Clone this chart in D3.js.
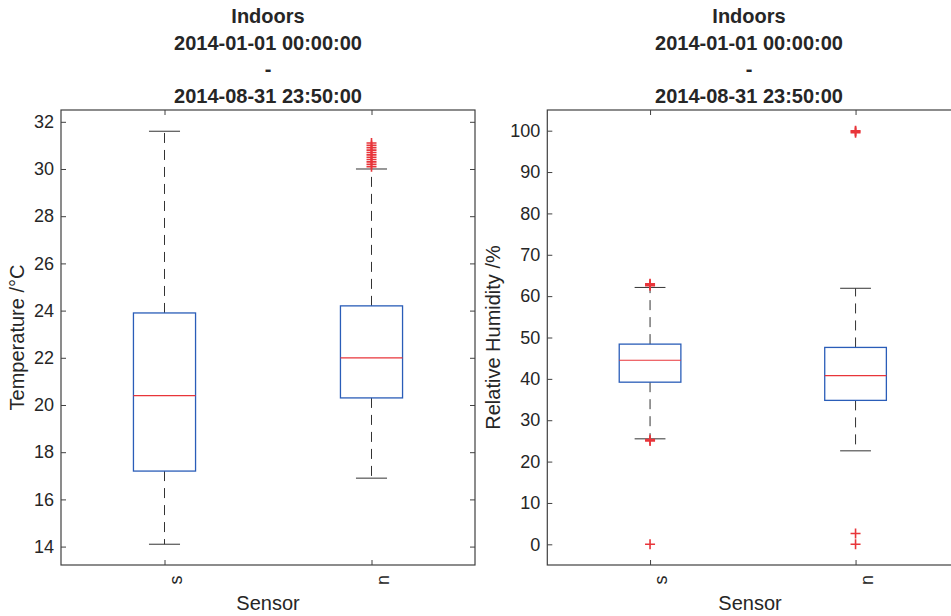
<!DOCTYPE html>
<html>
<head>
<meta charset="utf-8">
<script src="https://cdn.jsdelivr.net/npm/d3@7"></script>
<style>
  body { margin: 0; background: #fff; }
  text { font-family: "Liberation Sans", Arial, sans-serif; fill: #262626; }
</style>
</head>
<body>
<svg id="chart" width="951" height="616"></svg>
<script>
// box statistics
const sensors = ["s", "n"];
const titleLines = ["Indoors", "2014-01-01 00:00:00", "-", "2014-08-31 23:50:00"];

const tempMin = [14.1, 16.9];
const tempQ1 = [17.2, 20.3];
const tempMed = [20.4, 22.0];
const tempQ3 = [23.9, 24.2];
const tempMax = [31.6, 30.0];
const tempOutliers = [[], [30.1, 30.2, 30.3, 30.4, 30.5, 30.6, 30.7, 30.8, 30.9, 31.0, 31.1]];
const tempTicks = [14, 16, 18, 20, 22, 24, 26, 28, 30, 32];

const humMin = [25.5, 22.6];
const humQ1 = [39.2, 34.8];
const humMed = [44.5, 40.8];
const humQ3 = [48.4, 47.6];
const humMax = [62.1, 61.9];
const humOutliers = [[0, 25.0, 25.3, 62.5, 62.8, 63.0], [0, 2.6, 99.5, 99.8, 100.0]];
const humTicks = [0, 10, 20, 30, 40, 50, 60, 70, 80, 90, 100];

const svg = d3.select("#chart")

function panel(left, width, top, bottom, ydom, ticks, ylabel, ylabelX, mins, q1, med, q3, maxs, outl)
{
    const g = svg.append("g")
    const x = d3.scaleLinear().domain([0.5, 2.5]).range([left, left + width])
    const y = d3.scaleLinear().domain(ydom).range([bottom, top])
    const boxW = (x(1.15) - x(1))   // half box width
    const capW = boxW / 2

    // axes, ticks pointing inward
    g.append("g").attr("transform", `translate(${left},0)`)
        .call(d3.axisLeft(y).tickValues(ticks).tickSize(-5).tickPadding(7))
        .call(a => a.select(".domain").remove())
        .call(a => a.selectAll("text").attr("font-size", 18).attr("fill", "#262626"))
    g.append("g").attr("transform", `translate(${left + width},0)`)
        .call(d3.axisRight(y).tickValues(ticks).tickSize(-5).tickFormat(""))
        .call(a => a.select(".domain").remove())
    g.append("g").attr("transform", `translate(0,${top})`)
        .call(d3.axisTop(x).tickValues([1, 2]).tickSize(-5).tickFormat(""))
        .call(a => a.select(".domain").remove())
    g.append("g").attr("transform", `translate(0,${bottom})`)
        .call(d3.axisBottom(x).tickValues([1, 2]).tickSize(-5).tickFormat(""))
        .call(a => a.select(".domain").remove())
    g.selectAll(".tick line").attr("stroke", "#404040")

    g.append("rect")
        .attr("x", left).attr("y", top)
        .attr("width", width).attr("height", bottom - top)
        .attr("fill", "none").attr("stroke", "#404040").attr("stroke-width", 1.2)

    sensors.forEach((s, i) => {
        const cx = x(i + 1)
        // whiskers
        g.append("line").attr("x1", cx).attr("x2", cx)
            .attr("y1", y(q3[i])).attr("y2", y(maxs[i]))
            .attr("stroke", "#333").attr("stroke-dasharray", "10,7")
        g.append("line").attr("x1", cx).attr("x2", cx)
            .attr("y1", y(q1[i])).attr("y2", y(mins[i]))
            .attr("stroke", "#333").attr("stroke-dasharray", "10,7")
        ;[mins[i], maxs[i]].forEach(v => {
            g.append("line").attr("x1", cx - capW).attr("x2", cx + capW)
                .attr("y1", y(v)).attr("y2", y(v)).attr("stroke", "#333")
        })
        g.append("rect")
            .attr("x", cx - boxW).attr("width", 2 * boxW)
            .attr("y", y(q3[i])).attr("height", y(q1[i]) - y(q3[i]))
            .attr("fill", "none").attr("stroke", "#2a5db8").attr("stroke-width", 1.3)
        g.append("line").attr("x1", cx - boxW).attr("x2", cx + boxW)
            .attr("y1", y(med[i])).attr("y2", y(med[i]))
            .attr("stroke", "#e8353a").attr("stroke-width", 1.2)
        g.selectAll(null).data(outl[i]).enter().append("path")
            .attr("d", d => `M${cx - 5},${y(d)}h10M${cx},${y(d) - 5}v10`)
            .attr("stroke", "#e8353a").attr("stroke-width", 1.6).attr("fill", "none")

        g.append("text")
            .attr("transform", `translate(${cx + 17},580) rotate(-90)`)
            .attr("text-anchor", "middle").attr("font-size", 18)
            .text(s)
    })

    const mid = left + width / 2
    titleLines.forEach((t, k) => {
        g.append("text").attr("x", Math.min(mid, 749)).attr("y", 23 + k * 26.5)
            .attr("text-anchor", "middle").attr("font-size", 20).attr("font-weight", "bold")
            .attr("fill", "#111").text(t)
    })
    g.append("text").attr("x", Math.min(mid, 750)).attr("y", 610)
        .attr("text-anchor", "middle").attr("font-size", 20).text("Sensor")
    g.append("text")
        .attr("transform", `translate(${ylabelX},${(top + bottom) / 2}) rotate(-90)`)
        .attr("text-anchor", "middle").attr("font-size", 20).text(ylabel)
}

panel(61, 414, 110, 565, [13.22, 32.5], tempTicks, "Temperature /\u00B0C", 24,
      tempMin, tempQ1, tempMed, tempQ3, tempMax, tempOutliers)
panel(547.3, 411, 110, 565, [-5, 105], humTicks, "Relative Humidity /%", 500,
      humMin, humQ1, humMed, humQ3, humMax, humOutliers)
</script>
</body>
</html>
